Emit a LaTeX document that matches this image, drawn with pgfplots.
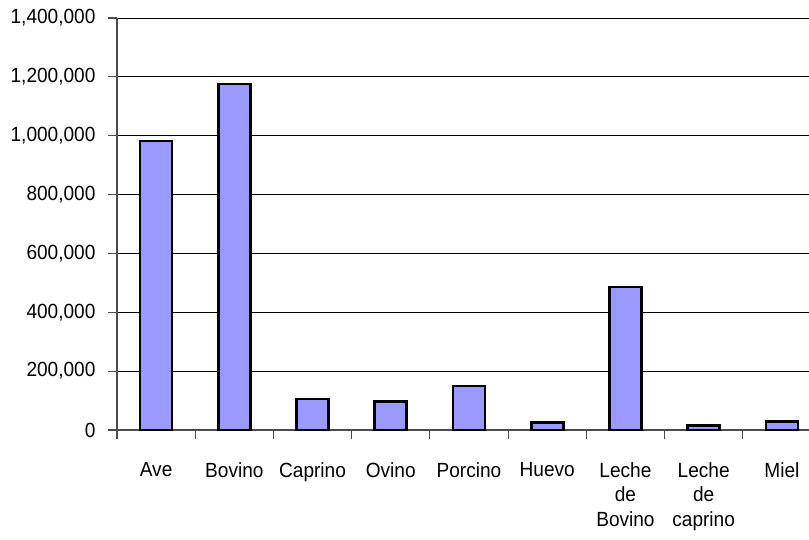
\documentclass[border=0pt]{standalone}
\usepackage{pgfplots}
\pgfplotsset{compat=1.18}
\usepackage{fontspec}
\setmainfont{Liberation Sans}[FakeStretch=0.93]
\definecolor{barfill}{HTML}{9999FF}
\begin{document}
\begin{tikzpicture}
\begin{axis}[
  at={(0pt,0pt)}, anchor=south west,
  scale only axis,
  width=704pt, height=412pt,
  xmin=-0.5, xmax=8.5,
  ymin=0, ymax=1400000,
  axis x line*=bottom, axis y line*=left,
  axis line style={draw=black!70, line width=1.2pt},
  ytick={0,200000,400000,600000,800000,1000000,1200000,1400000},
  scaled y ticks=false,
  /pgf/number format/fixed,
  /pgf/number format/1000 sep={,},
  /pgf/number format/assume math mode=true,
  ymajorgrids,
  major grid style={draw=black, line width=0.8pt},
  tick align=outside,
  major tick length=9pt,
  minor tick length=9pt,
  tick style={draw=black!70, line width=1.2pt},
  xtick={0,...,8},
  xtick style={draw=none},
  minor xtick={-0.5,0.5,...,8.5},
  minor x tick style={draw=black!70, line width=1.2pt},
  xticklabels={Ave,Bovino,Caprino,Ovino,Porcino,Huevo,{Leche\\de\\Bovino},{Leche\\de\\caprino},Miel},
  xticklabel style={align=center, anchor=north, yshift=-20pt, font=\fontsize{20.5}{24.5}\selectfont},
  yticklabel style={font=\fontsize{20.5}{24.5}\selectfont, xshift=-9pt},
  ybar, bar width=32pt,
]
\addplot[fill=barfill, draw=black, line width=2.6pt] coordinates {
  (0,982000) (1,1176000) (2,106000) (3,97000) (4,150000)
  (5,25000) (6,486000) (7,15000) (8,28000)
};
\end{axis}
\pgfresetboundingbox
\useasboundingbox (-117pt,-109pt) rectangle (692pt,430pt);
\end{tikzpicture}
\end{document}
